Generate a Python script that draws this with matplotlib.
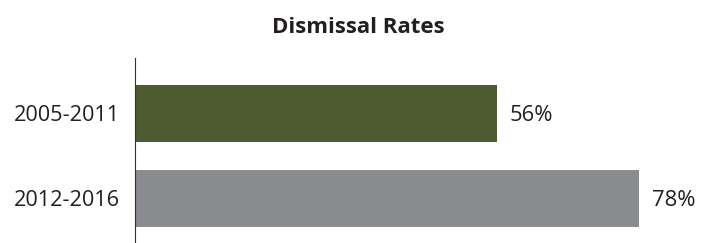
import matplotlib
matplotlib.use("Agg")
import matplotlib.pyplot as plt

# data
periods = ["2005-2011", "2012-2016"]
rates = [56, 78]
bar_colors = ["#4e5a2f", "#8a8b8f"]

plt.rcParams['font.family'] = ['Open Sans', 'DejaVu Sans']
txt = "#231f20"

fig = plt.figure(figsize=(7.08, 2.43), dpi=100)
ax = fig.add_axes([135/708, 0, 573/708, 185/243])

ypos = list(range(len(periods)))
ax.barh(ypos, rates, height=0.67, color=bar_colors)

for y, r in zip(ypos, rates):
    ax.text(r + 2.0, y + 0.02, f"{r}%", va="center", ha="left", fontsize=15.8, color=txt)

ax.set_xlim(0, 573/6.46)
ax.set_ylim(1.524, -0.653)
ax.set_yticks(ypos)
ax.set_yticklabels(periods, fontsize=15.6, color=txt)
ax.tick_params(axis="y", length=0, pad=11)
ax.set_xticks([])
for s in ["top", "right", "bottom"]:
    ax.spines[s].set_visible(False)
ax.spines["left"].set_color("#333333")
ax.spines["left"].set_linewidth(0.8)

fig.text(358/708, 1 - 27/243, "Dismissal Rates", ha="center", va="center",
         fontsize=16, fontweight="bold", color=txt)

fig.savefig("out.png", dpi=100)
